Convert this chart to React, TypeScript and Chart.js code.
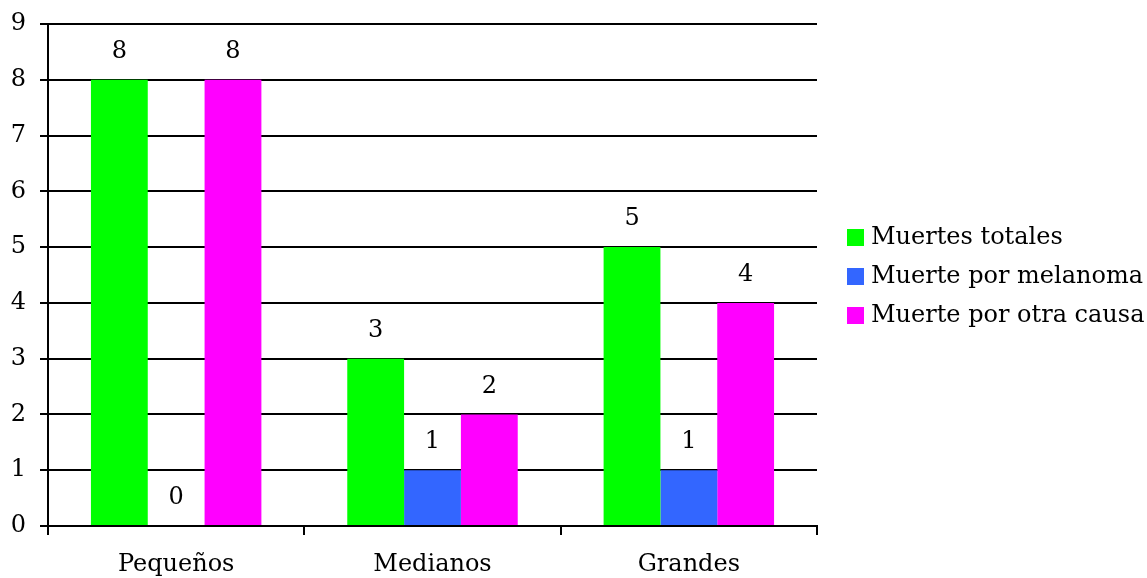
import { useEffect, useRef } from "react";
import { Chart, registerables } from "chart.js";

Chart.register(...registerables);

const categories = ["Pequeños", "Medianos", "Grandes"];
const seriesNames = ["Muertes totales", "Muerte por melanoma", "Muerte por otra causa"];
const totalDeaths = [8, 3, 5];
const melanomaDeaths = [0, 1, 1];
const otherCauseDeaths = [8, 2, 4];
const seriesColors = ["#00FF00", "#3366FF", "#FF00FF"];
const yMin = 0;
const yMax = 9;
const yStep = 1;

const FONT_FAMILY = "'DejaVu Serif', 'Liberation Serif', serif";
const FONT_SIZE = 24;

// Numbers written above each bar
const valueLabels = {
  id: "valueLabels",
  afterDatasetsDraw(chart: any) {
    const ctx = chart.ctx;
    ctx.save();
    ctx.font = `${FONT_SIZE}px ${FONT_FAMILY}`;
    ctx.fillStyle = "#000";
    ctx.textAlign = "center";
    ctx.textBaseline = "middle";
    chart.data.datasets.forEach((ds: any, i: number) => {
      const meta = chart.getDatasetMeta(i);
      meta.data.forEach((bar: any, j: number) => {
        ctx.fillText(String(ds.data[j]), bar.x, bar.y - 28);
      });
    });
    ctx.restore();
  },
};

// Legend to the right of the plot
const sideLegend = {
  id: "sideLegend",
  afterDraw(chart: any) {
    const { ctx, chartArea } = chart;
    const x0 = chartArea.right + 30;
    const yc = (chartArea.top + chartArea.bottom) / 2 + 1;
    const gap = 39;
    const box = 17;
    const n = chart.data.datasets.length;
    ctx.save();
    ctx.font = `${FONT_SIZE}px ${FONT_FAMILY}`;
    ctx.textAlign = "left";
    ctx.textBaseline = "middle";
    chart.data.datasets.forEach((ds: any, i: number) => {
      const y = yc + (i - (n - 1) / 2) * gap;
      ctx.fillStyle = ds.backgroundColor;
      ctx.fillRect(x0, Math.round(y - box / 2), box, box);
      ctx.fillStyle = "#000";
      ctx.fillText(ds.label, x0 + box + 7, y + 1);
    });
    ctx.restore();
  },
};

export default function App() {
  const canvasRef = useRef<HTMLCanvasElement | null>(null);

  useEffect(() => {
    if (!canvasRef.current) return;
    const seriesData = [totalDeaths, melanomaDeaths, otherCauseDeaths];
    const chart = new Chart(canvasRef.current, {
      type: "bar",
      data: {
        labels: categories,
        datasets: seriesNames.map((name, i) => ({
          label: name,
          data: seriesData[i],
          backgroundColor: seriesColors[i],
          borderWidth: 0,
          categoryPercentage: 0.665,
          barPercentage: 1.0,
        })),
      },
      options: {
        animation: false,
        responsive: false,
        maintainAspectRatio: false,
        layout: { padding: { top: 24, right: 330, bottom: 0, left: 0 } },
        plugins: {
          legend: { display: false },
          tooltip: { enabled: false },
        },
        scales: {
          x: {
            grid: {
              offset: true,
              drawOnChartArea: false,
              drawTicks: true,
              tickLength: 9,
              color: "#000",
              lineWidth: 2,
            },
            border: { display: true, color: "#000", width: 2 },
            ticks: {
              color: "#000",
              font: { family: FONT_FAMILY, size: FONT_SIZE },
              padding: 15,
            },
            afterFit(scale: any) {
              scale.height = 52;
            },
          },
          y: {
            min: yMin,
            max: yMax,
            ticks: {
              stepSize: yStep,
              color: "#000",
              font: { family: FONT_FAMILY, size: FONT_SIZE, lineHeight: 0.8 },
              padding: 14,
            },
            grid: {
              color: "#000",
              lineWidth: 2,
              tickLength: 8,
            },
            border: { display: true, color: "#000", width: 2 },
            afterFit(scale: any) {
              scale.width = 48;
            },
          },
        },
      },
      plugins: [valueLabels, sideLegend],
    });
    return () => chart.destroy();
  }, []);

  return (
    <div style={{ position: "fixed", left: 0, top: 0, width: 1147, height: 578, background: "#fff" }}>
      <canvas ref={canvasRef} width={1147} height={578} style={{ display: "block" }} />
    </div>
  );
}
